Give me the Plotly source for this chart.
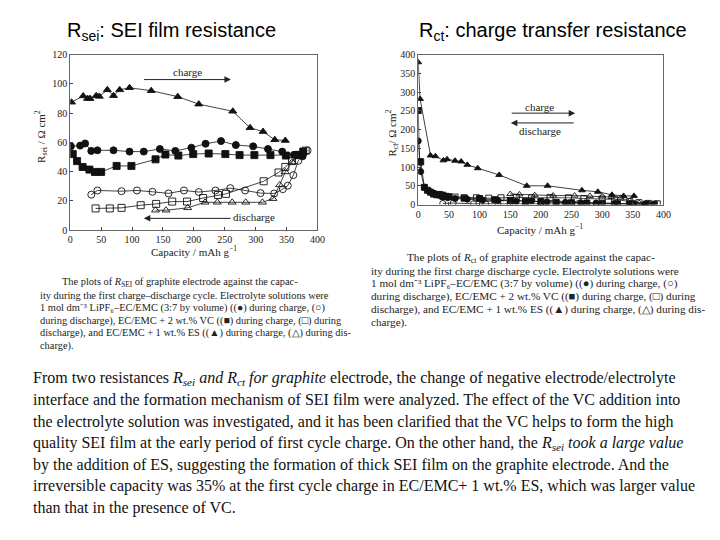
import plotly.graph_objects as go

W, H = 720, 540

# ---------------- data: R_sei (left chart) ----------------
sei_es_chg_x = [2, 21, 28, 32, 42, 47, 60, 70, 80, 96, 131, 174, 208, 263, 291, 312, 331, 348]
sei_es_chg_y = [87.5, 91.8, 90, 90, 92, 91.5, 96, 92, 96, 97.4, 95.4, 91.3, 86.2, 81.3, 70, 67.4, 61.8, 61.3]

sei_ec_chg_x = [1, 16, 24, 34, 44, 70, 96, 119, 145, 170, 196, 219, 244, 268, 296, 320, 343, 362, 376]
sei_ec_chg_y = [57.3, 57.8, 59.3, 54.2, 54.6, 54.6, 53.7, 53.7, 55.5, 54.2, 56.4, 59.1, 60.9, 58.2, 57.3, 55.5, 53.7, 51.5, 50.5]

sei_vc_chg_x = [4, 11, 20, 31, 40, 50, 75, 99, 138, 154, 175, 199, 224, 251, 274, 298, 324, 349, 369, 377]
sei_vc_chg_y = [52, 47.2, 43.2, 41.4, 39.8, 39.8, 43.9, 43.9, 48.4, 51.7, 51, 52, 52.4, 52, 51.3, 51.3, 51.3, 51, 51.3, 53.7]

sei_ec_dis_x = [34, 44, 83, 108, 133, 159, 184, 208, 235, 259, 283, 308, 330, 344, 352, 361, 369, 376, 384]
sei_ec_dis_y = [24.2, 27.1, 26.6, 27.1, 26.2, 25.1, 27.1, 26, 27.1, 28.7, 27.1, 25.3, 25, 28, 30.4, 37.6, 47.4, 51.5, 54.5]

sei_vc_dis_x = [41, 64, 83, 114, 139, 165, 189, 215, 239, 252, 313, 337, 348, 359, 370, 381]
sei_vc_dis_y = [14.8, 14.8, 15.2, 17, 17.9, 19.5, 19.5, 21.9, 24, 24.8, 33.4, 39.4, 43.2, 47.2, 51.5, 54.4]

sei_es_dis_x = [138, 155, 190, 218, 238, 262, 284, 311, 328, 339, 348, 359, 369, 377]
sei_es_dis_y = [13.6, 13.6, 15.2, 19, 19, 19, 19, 19, 21.5, 30.9, 39.8, 46.6, 51.5, 53.3]

# ---------------- data: R_ct (right chart) ----------------
ct_es_chg_x = [0, 3, 20, 28, 41, 47, 60, 70, 80, 97, 132, 177, 211, 267, 293, 316, 335, 352]
ct_es_chg_y = [380, 282, 131, 129, 118, 121, 117, 115, 106, 97, 79, 50, 50, 38, 34, 26, 23, 23]

ct_vc_chg_x = [0, 2, 4, 10, 15, 20, 25, 30, 35, 40, 45, 50, 75, 100, 125, 150, 175, 200, 225, 250, 275, 300, 325, 350, 372, 385]
ct_vc_chg_y = [251, 114, 114, 46, 38, 33, 28, 26, 27, 25, 22, 21, 17, 16, 13, 11, 9, 8, 6, 5, 4, 3, 2, 2, 1, 1]

ct_ec_chg_x = [0, 4, 10, 18, 26, 33, 40, 48, 60, 80, 105, 130, 160, 185, 210, 240, 265, 290, 320, 345, 370]
ct_ec_chg_y = [170, 88, 46, 36, 30, 25, 20, 18, 16, 14, 12, 11, 9, 10, 7, 6, 5, 4, 3, 2, 1]

ct_ec_dis_x = [40, 57, 90, 110, 130, 150, 175, 200, 230, 260, 290, 320, 350, 375]
ct_ec_dis_y = [3, 4, 2, 2, 3, 2, 3, 2, 2, 2, 2, 1, 1, 1]

ct_vc_dis_x = [40, 60, 75, 95, 115, 135, 160, 185, 215, 245, 270, 300, 320, 345, 360, 375, 390]
ct_vc_dis_y = [22, 20, 18, 18, 17, 18, 19, 18, 19, 18, 16, 15, 14, 8, 5, 3, 2]

ct_es_dis_x = [150, 165, 190, 220, 255, 280, 300, 315, 330, 345, 360]
ct_es_dis_y = [28, 27, 25, 24, 24, 23, 22, 20, 18, 10, 5]

# ---------------- text ----------------
title_left = "R<sub>sei</sub>: SEI film resistance"
title_right = "R<sub>ct</sub>: charge transfer resistance"

cap_left = [
    "The plots of <i>R</i><sub>SEI</sub> of graphite electrode against the capac-",
    "ity during the first charge–discharge cycle. Electrolyte solutions were",
    "1 mol dm⁻³ LiPF₆–EC/EMC (3:7 by volume) ((●) during charge, (○)",
    "during discharge), EC/EMC + 2 wt.% VC ((■) during charge, (□) during",
    "discharge), and EC/EMC + 1 wt.% ES ((▲) during charge, (△) during dis-",
    "charge).",
]
cap_right = [
    "The plots of <i>R</i><sub>ct</sub> of graphite electrode against the capac-",
    "ity during the first charge discharge cycle. Electrolyte solutions were",
    "1 mol dm⁻³ LiPF₆–EC/EMC (3:7 by volume) ((●) during charge, (○)",
    "during discharge), EC/EMC + 2 wt.% VC ((■) during charge, (□) during",
    "discharge), and EC/EMC + 1 wt.% ES ((▲) during charge, (△) during dis-",
    "charge).",
]
para = [
    "From two resistances <i>R<sub>sei</sub> and R<sub>ct</sub> for graphite</i> electrode, the change of negative electrode/electrolyte",
    "interface and the formation mechanism of SEI film were analyzed. The effect of the VC addition into",
    "the electrolyte solution was investigated, and it has been clarified that the VC helps to form the high",
    "quality SEI film at the early period of first cycle charge. On the other hand, the <i>R<sub>sei</sub> took a large value</i>",
    "by the addition of ES, suggesting the formation of thick SEI film on the graphite electrode. And the",
    "irreversible capacity was 35% at the first cycle charge in EC/EMC+ 1 wt.% ES, which was larger value",
    "than that in the presence of VC.",
]


def px(x):
    return x / W


def py(y):
    return 1 - y / H


SERIF = "Liberation Serif, Times New Roman, serif"
SANS = "Liberation Sans, Arial, sans-serif"
LINE = dict(color="#111", width=0.8)

fig = go.Figure()


def add(xs, ys, symbol, xa, ya, size=7):
    fig.add_trace(go.Scatter(
        x=xs, y=ys, mode="lines+markers", xaxis=xa, yaxis=ya,
        line=LINE,
        marker=dict(symbol=symbol, size=size, color="#111",
                    line=dict(color="#111", width=0.9)),
        showlegend=False, hoverinfo="skip"))


# left chart
add(sei_ec_dis_x, sei_ec_dis_y, "circle-open", "x", "y")
add(sei_vc_dis_x, sei_vc_dis_y, "square-open", "x", "y")
add(sei_es_dis_x, sei_es_dis_y, "triangle-up-open", "x", "y")
add(sei_ec_chg_x, sei_ec_chg_y, "circle", "x", "y")
add(sei_vc_chg_x, sei_vc_chg_y, "square", "x", "y")
add(sei_es_chg_x, sei_es_chg_y, "triangle-up", "x", "y")

# right chart
add(ct_ec_dis_x, ct_ec_dis_y, "circle-open", "x2", "y2", 6)
add(ct_vc_dis_x, ct_vc_dis_y, "square-open", "x2", "y2", 6)
add(ct_es_dis_x, ct_es_dis_y, "triangle-up-open", "x2", "y2", 6)
add(ct_ec_chg_x, ct_ec_chg_y, "circle", "x2", "y2", 6)
add(ct_vc_chg_x, ct_vc_chg_y, "square", "x2", "y2", 6)
add(ct_es_chg_x, ct_es_chg_y, "triangle-up", "x2", "y2", 6)

tickfont = dict(family=SERIF, size=10, color="#222")
axcommon = dict(showgrid=False, zeroline=False, showline=True, mirror=True,
                linecolor="#666", linewidth=1, ticks="inside", ticklen=3,
                tickcolor="#444", tickfont=tickfont)

fig.update_layout(
    width=W, height=H,
    margin=dict(l=0, r=0, t=0, b=0),
    paper_bgcolor="white", plot_bgcolor="white",
    xaxis=dict(domain=[px(68.3), px(319.3)], range=[0, 400], dtick=50,
               anchor="y", **axcommon),
    yaxis=dict(domain=[py(229.3), py(50.7)], range=[0, 120], dtick=20,
               anchor="x", **axcommon),
    xaxis2=dict(domain=[px(421.7), px(670.7)], range=[0, 400], dtick=50,
                anchor="y2", **axcommon),
    yaxis2=dict(domain=[py(203.3), py(50.7)], range=[0, 400], dtick=50,
                anchor="x2", **axcommon),
)

ann = []


def txt(text, x, y, font, xanchor="center", angle=0):
    ann.append(dict(text=text, x=px(x), y=py(y), xref="paper", yref="paper",
                    xanchor=xanchor, yanchor="middle", textangle=angle,
                    showarrow=False, font=font))


# titles
tf = dict(family=SANS, size=20, color="black")
txt(title_left, 171, 27, tf)
txt(title_right, 559, 27, tf)

# axis titles
axf = dict(family=SERIF, size=11, color="#222")
txt("R<sub>sei</sub> / Ω cm<sup>2</sup>", 38, 134, axf, angle=-90)
txt("Capacity / mAh g<sup>−1</sup>", 194, 251, axf)
txt("R<sub>ct</sub>/ Ω cm<sup>2</sup>", 395, 130, axf, angle=-90)
txt("Capacity / mAh g<sup>−1</sup>", 545, 228, axf)

# arrows
arrow = dict(showarrow=True, arrowhead=2, arrowsize=1.3, arrowwidth=1, arrowcolor="#222", text="")
ann.append(dict(x=260, y=103, ax=117, ay=103, xref="x", yref="y", axref="x", ayref="y", **arrow))
ann.append(dict(text="charge", x=190, y=108, xref="x", yref="y", xanchor="center",
                yanchor="middle", showarrow=False, font=axf))
ann.append(dict(x=119, y=8, ax=262, ay=8, xref="x", yref="y", axref="x", ayref="y", **arrow))
ann.append(dict(text="discharge", x=297, y=9, xref="x", yref="y", xanchor="center",
                yanchor="middle", showarrow=False, font=axf))
ann.append(dict(x=256, y=244, ax=150, ay=244, xref="x2", yref="y2", axref="x2", ayref="y2", **arrow))
ann.append(dict(text="charge", x=198, y=261, xref="x2", yref="y2", xanchor="center",
                yanchor="middle", showarrow=False, font=axf))
ann.append(dict(x=151, y=218, ax=256, ay=218, xref="x2", yref="y2", axref="x2", ayref="y2", **arrow))
ann.append(dict(text="discharge", x=198, y=196, xref="x2", yref="y2", xanchor="center",
                yanchor="middle", showarrow=False, font=axf))

# captions
capf = dict(family=SERIF, size=10.4, color="#222")
for i, t in enumerate(cap_left):
    txt(t, 58 if i == 0 else 36, 283 + i * 12.9, capf, xanchor="left")
capf2 = dict(family=SERIF, size=11.2, color="#222")
for i, t in enumerate(cap_right):
    txt(t, 408 if i == 0 else 372, 258 + i * 13.1, capf2, xanchor="left")

# paragraph
pf = dict(family=SERIF, size=16, color="#111")
for i, t in enumerate(para):
    txt(t, 28, 381 + i * 21.9, pf, xanchor="left")

fig.update_layout(annotations=ann)
fig.write_html("out.html")
